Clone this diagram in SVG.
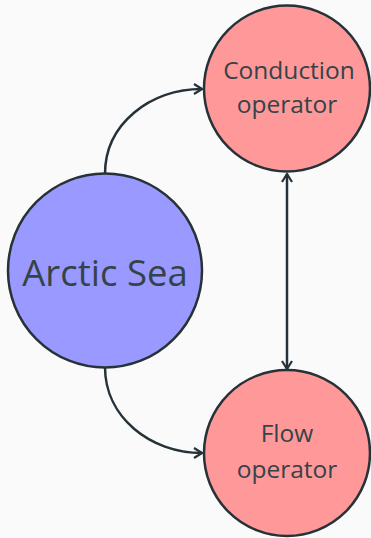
<svg xmlns="http://www.w3.org/2000/svg" width="371" height="538" viewBox="0 0 371 538">
<style>
.node{stroke:#263238;stroke-width:2.5}
.lbl{font-family:"Open Sans","DejaVu Sans",sans-serif;fill:#344349;text-anchor:middle}
.edge{fill:none;stroke:#263238;stroke-width:2.5}
</style>
<defs>
<marker id="ah" viewBox="0 0 10 12" refX="9" refY="6" markerWidth="10" markerHeight="12" markerUnits="userSpaceOnUse" orient="auto-start-reverse">
<path d="M1,1 L9,6 L1,11" fill="none" stroke="#263238" stroke-width="2.2"/>
</marker>
</defs>
<rect width="371" height="538" fill="#fafafa"/>
<g id="connectors">
<path class="edge" d="M105,174 C105,124 150,89 202,89" marker-end="url(#ah)"/>
<path class="edge" d="M105,367 C105,417 150,453 202,453" marker-end="url(#ah)"/>
<path class="edge" d="M287,174 L287,369" marker-start="url(#ah)" marker-end="url(#ah)"/>
</g>
<g id="arctic-sea">
<circle class="node" cx="105" cy="270.5" r="97" fill="#9999ff"/>
<text class="lbl" x="105" y="286" font-size="36.5">Arctic Sea</text>
</g>
<g id="conduction-operator">
<circle class="node" cx="287" cy="88.5" r="83" fill="#ff9999"/>
<text class="lbl" x="289" y="79" font-size="24.5">Conduction</text>
<text class="lbl" x="287" y="113" font-size="24.5">operator</text>
</g>
<g id="flow-operator">
<circle class="node" cx="287" cy="453" r="83" fill="#ff9999"/>
<text class="lbl" x="287" y="442" font-size="24.5">Flow</text>
<text class="lbl" x="287" y="478" font-size="24.5">operator</text>
</g>
</svg>
